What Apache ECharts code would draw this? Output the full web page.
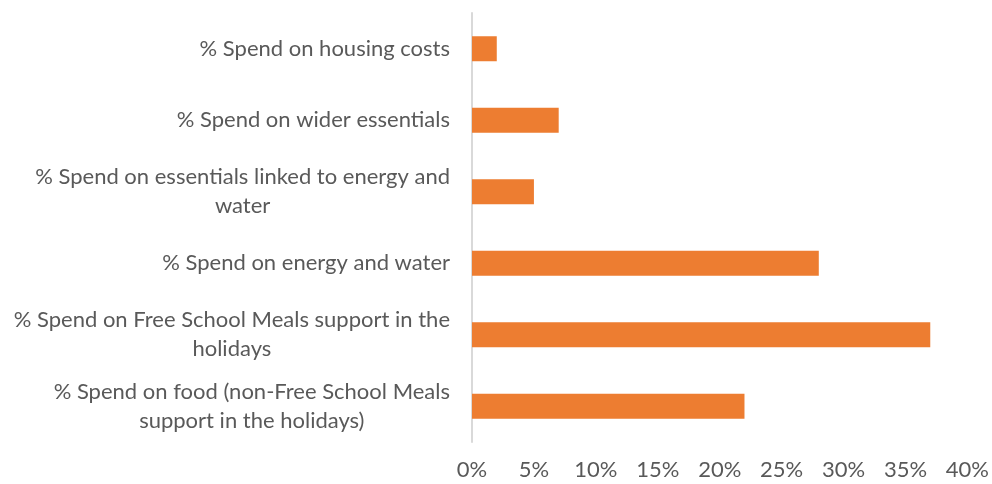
<!DOCTYPE html>
<html>
<head>
<meta charset="utf-8">
<script src="https://cdn.jsdelivr.net/npm/echarts@6/dist/echarts.min.js"></script>
<style>
  html, body { margin: 0; padding: 0; background: #ffffff; }
  #chart { width: 992px; height: 484px; }
</style>
</head>
<body>
<div id="chart"></div>
<script>
// Spending categories, listed top to bottom
const categories = [
  '% Spend on housing costs',
  '% Spend on wider essentials',
  '% Spend on essentials linked to energy and water',
  '% Spend on energy and water',
  '% Spend on Free School Meals support in the holidays',
  '% Spend on food (non-Free School Meals support in the holidays)'
];

// Share of spend, in percent
const spendShare = [2, 7, 5, 28, 37, 22];

// Value axis range and step (percent)
const axisMin = 0;
const axisMax = 40;
const axisStep = 5;

const FONT_FAMILY = 'Lato';
const FONT_SIZE = 22;
const LINE_HEIGHT = 29;
const WRAP_WIDTH = 452;
const TEXT_COLOR = '#595959';

// Word-wrap a category name; each line is centred inside the label block
const measureCtx = document.createElement('canvas').getContext('2d');
measureCtx.font = FONT_SIZE + 'px ' + FONT_FAMILY;
function wrapLines(text) {
  const words = text.split(' ');
  const lines = [];
  let current = '';
  words.forEach(function (w) {
    const trial = current ? current + ' ' + w : w;
    if (current && measureCtx.measureText(trial).width > WRAP_WIDTH) {
      lines.push(current);
      current = w;
    } else {
      current = trial;
    }
  });
  if (current) lines.push(current);
  return lines;
}

const chart = echarts.init(document.getElementById('chart'), null, { renderer: 'canvas' });

chart.setOption({
  animation: false,
  backgroundColor: '#ffffff',
  grid: { left: 472, right: 24, top: 13, bottom: 42, containLabel: false },
  xAxis: {
    type: 'value',
    min: axisMin,
    max: axisMax,
    interval: axisStep,
    axisLine: { show: false },
    axisTick: { show: false },
    splitLine: { show: false },
    axisLabel: {
      formatter: '{value}%',
      color: TEXT_COLOR,
      fontFamily: FONT_FAMILY,
      fontSize: FONT_SIZE,
      margin: 17
    }
  },
  yAxis: {
    type: 'category',
    data: categories,
    inverse: true,
    axisLine: { show: true, lineStyle: { color: '#d9d9d9', width: 2 } },
    axisTick: { show: false },
    splitLine: { show: false },
    axisLabel: {
      margin: 22,
      color: TEXT_COLOR,
      fontFamily: FONT_FAMILY,
      fontSize: FONT_SIZE,
      lineHeight: LINE_HEIGHT,
      formatter: function (value) {
        return wrapLines(value).map(function (l) { return '{c|' + l + '}'; }).join('\n');
      },
      rich: {
        c: {
          align: 'center',
          color: TEXT_COLOR,
          fontFamily: FONT_FAMILY,
          fontSize: FONT_SIZE,
          lineHeight: LINE_HEIGHT
        }
      }
    }
  },
  series: [{
    type: 'bar',
    data: spendShare,
    barWidth: 25,
    itemStyle: { color: '#ED7D31' },
    silent: true
  }]
});
</script>
</body>
</html>
